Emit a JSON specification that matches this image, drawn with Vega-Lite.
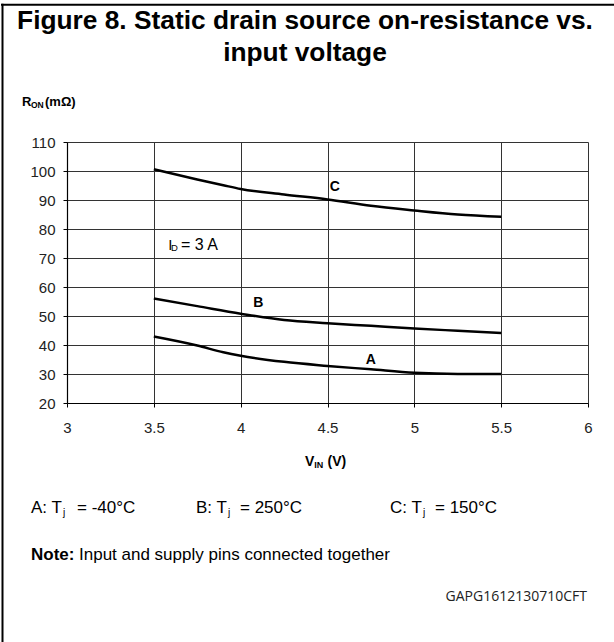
{
  "$schema": "https://vega.github.io/schema/vega-lite/v6.json",
  "width": 521,
  "height": 261,
  "autosize": {"type": "none"},
  "padding": {"left": 67, "top": 142, "right": 26, "bottom": 239},
  "background": "white",
  "config": {
    "view": {"stroke": null},
    "font": "Liberation Sans",
    "text": {"font": "Liberation Sans", "color": "black"},
    "axis": {
      "grid": true, "gridColor": "#333", "gridWidth": 1,
      "domainColor": "black", "domainWidth": 1.2,
      "tickColor": "black", "tickSize": 4, "tickWidth": 1,
      "labelFont": "Liberation Sans", "labelFontSize": 15, "labelColor": "#222",
      "labelFlush": false, "title": null
    },
    "axisX": {"labelPadding": 13},
    "axisY": {"labelPadding": 8}
  },
  "datasets": {
    "curves": [
      {"series": "A", "v": 3.5, "r": 42.9},
      {"series": "A", "v": 3.75, "r": 39.8},
      {"series": "A", "v": 3.9, "r": 37.5},
      {"series": "A", "v": 4.0, "r": 36.3},
      {"series": "A", "v": 4.25, "r": 34.2},
      {"series": "A", "v": 4.5, "r": 32.8},
      {"series": "A", "v": 4.75, "r": 31.6},
      {"series": "A", "v": 5.0, "r": 30.4},
      {"series": "A", "v": 5.25, "r": 30.0},
      {"series": "A", "v": 5.5, "r": 30.0},
      {"series": "B", "v": 3.5, "r": 56.0},
      {"series": "B", "v": 3.75, "r": 53.4},
      {"series": "B", "v": 4.0, "r": 50.8},
      {"series": "B", "v": 4.25, "r": 48.6},
      {"series": "B", "v": 4.5, "r": 47.5},
      {"series": "B", "v": 4.75, "r": 46.6},
      {"series": "B", "v": 5.0, "r": 45.7},
      {"series": "B", "v": 5.25, "r": 44.9},
      {"series": "B", "v": 5.5, "r": 44.1},
      {"series": "C", "v": 3.5, "r": 100.6},
      {"series": "C", "v": 3.75, "r": 97.1},
      {"series": "C", "v": 3.9, "r": 95.1},
      {"series": "C", "v": 4.0, "r": 93.8},
      {"series": "C", "v": 4.25, "r": 91.9},
      {"series": "C", "v": 4.5, "r": 90.2},
      {"series": "C", "v": 4.75, "r": 88.0},
      {"series": "C", "v": 5.0, "r": 86.4},
      {"series": "C", "v": 5.25, "r": 85.0},
      {"series": "C", "v": 5.5, "r": 84.2}
    ],
    "labels": [
      {"name": "A", "v": 4.7493, "r": 34.93},
      {"name": "B", "v": 4.1015, "r": 54.38},
      {"name": "C", "v": 4.5414, "r": 94.59}
    ],
    "one": [{}]
  },
  "layer": [
    {
      "data": {"name": "curves"},
      "mark": {"type": "line", "color": "black", "strokeWidth": 2.5, "interpolate": "monotone"},
      "encoding": {
        "x": {"field": "v", "type": "quantitative", "scale": {"domain": [3, 6], "nice": false, "zero": false}, "axis": {"values": [3, 3.5, 4, 4.5, 5, 5.5, 6], "format": "~g"}},
        "y": {"field": "r", "type": "quantitative", "scale": {"domain": [20, 110], "nice": false, "zero": false}, "axis": {"values": [20, 30, 40, 50, 60, 70, 80, 90, 100, 110], "format": "d"}},
        "detail": {"field": "series"}
      }
    },
    {
      "data": {"name": "labels"},
      "mark": {"type": "text", "fontWeight": "bold", "fontSize": 14, "align": "center", "baseline": "middle"},
      "encoding": {
        "x": {"field": "v", "type": "quantitative", "axis": {"values": [3, 3.5, 4, 4.5, 5, 5.5, 6], "format": "~g"}},
        "y": {"field": "r", "type": "quantitative", "axis": {"values": [20, 30, 40, 50, 60, 70, 80, 90, 100, 110], "format": "d"}},
        "text": {"field": "name"}
      }
    },
    {
      "data": {"name": "one"},
      "mark": {"type": "text", "fontSize": 15, "align": "left", "baseline": "middle"},
      "encoding": {"x": {"datum": 3.5833, "type": "quantitative", "axis": {"values": [3, 3.5, 4, 4.5, 5, 5.5, 6], "format": "~g"}}, "y": {"datum": 74.483, "type": "quantitative", "axis": {"values": [20, 30, 40, 50, 60, 70, 80, 90, 100, 110], "format": "d"}}, "text": {"value": "I"}}
    },
    {
      "data": {"name": "one"},
      "mark": {"type": "text", "fontSize": 9.5, "align": "left", "baseline": "middle"},
      "encoding": {"x": {"datum": 3.5988, "type": "quantitative", "axis": {"values": [3, 3.5, 4, 4.5, 5, 5.5, 6], "format": "~g"}}, "y": {"datum": 73.448, "type": "quantitative", "axis": {"values": [20, 30, 40, 50, 60, 70, 80, 90, 100, 110], "format": "d"}}, "text": {"value": "D"}}
    },
    {
      "data": {"name": "one"},
      "mark": {"type": "text", "fontSize": 16, "align": "left", "baseline": "middle"},
      "encoding": {"x": {"datum": 3.6564, "type": "quantitative", "axis": {"values": [3, 3.5, 4, 4.5, 5, 5.5, 6], "format": "~g"}}, "y": {"datum": 74.483, "type": "quantitative", "axis": {"values": [20, 30, 40, 50, 60, 70, 80, 90, 100, 110], "format": "d"}}, "text": {"value": "= 3 A"}}
    },
    {
      "data": {"name": "one"},
      "mark": {"type": "text", "fontSize": 26.3, "fontWeight": "bold", "align": "center", "baseline": "alphabetic"},
      "encoding": {"x": {"datum": 4.3704, "type": "quantitative", "axis": {"values": [3, 3.5, 4, 4.5, 5, 5.5, 6], "format": "~g"}}, "y": {"datum": 148.966, "type": "quantitative", "axis": {"values": [20, 30, 40, 50, 60, 70, 80, 90, 100, 110], "format": "d"}}, "text": {"value": "Figure 8. Static drain source on-resistance vs."}}
    },
    {
      "data": {"name": "one"},
      "mark": {"type": "text", "fontSize": 26.3, "fontWeight": "bold", "align": "center", "baseline": "alphabetic"},
      "encoding": {"x": {"datum": 4.3704, "type": "quantitative", "axis": {"values": [3, 3.5, 4, 4.5, 5, 5.5, 6], "format": "~g"}}, "y": {"datum": 137.931, "type": "quantitative", "axis": {"values": [20, 30, 40, 50, 60, 70, 80, 90, 100, 110], "format": "d"}}, "text": {"value": "input voltage"}}
    },
    {
      "data": {"name": "one"},
      "mark": {"type": "text", "fontSize": 13, "fontWeight": "bold", "align": "left", "baseline": "middle"},
      "encoding": {"x": {"datum": 2.7409, "type": "quantitative", "axis": {"values": [3, 3.5, 4, 4.5, 5, 5.5, 6], "format": "~g"}}, "y": {"datum": 123.793, "type": "quantitative", "axis": {"values": [20, 30, 40, 50, 60, 70, 80, 90, 100, 110], "format": "d"}}, "text": {"value": "R"}}
    },
    {
      "data": {"name": "one"},
      "mark": {"type": "text", "fontSize": 8.5, "fontWeight": "bold", "align": "left", "baseline": "middle"},
      "encoding": {"x": {"datum": 2.7927, "type": "quantitative", "axis": {"values": [3, 3.5, 4, 4.5, 5, 5.5, 6], "format": "~g"}}, "y": {"datum": 122.759, "type": "quantitative", "axis": {"values": [20, 30, 40, 50, 60, 70, 80, 90, 100, 110], "format": "d"}}, "text": {"value": "ON"}}
    },
    {
      "data": {"name": "one"},
      "mark": {"type": "text", "fontSize": 13, "fontWeight": "bold", "align": "left", "baseline": "middle"},
      "encoding": {"x": {"datum": 2.8733, "type": "quantitative", "axis": {"values": [3, 3.5, 4, 4.5, 5, 5.5, 6], "format": "~g"}}, "y": {"datum": 123.793, "type": "quantitative", "axis": {"values": [20, 30, 40, 50, 60, 70, 80, 90, 100, 110], "format": "d"}}, "text": {"value": "(mΩ)"}}
    },
    {
      "data": {"name": "one"},
      "mark": {"type": "text", "fontSize": 14, "fontWeight": "bold", "align": "left", "baseline": "middle"},
      "encoding": {"x": {"datum": 4.3704, "type": "quantitative", "axis": {"values": [3, 3.5, 4, 4.5, 5, 5.5, 6], "format": "~g"}}, "y": {"datum": -0.345, "type": "quantitative", "axis": {"values": [20, 30, 40, 50, 60, 70, 80, 90, 100, 110], "format": "d"}}, "text": {"value": "V"}}
    },
    {
      "data": {"name": "one"},
      "mark": {"type": "text", "fontSize": 9, "fontWeight": "bold", "align": "left", "baseline": "middle"},
      "encoding": {"x": {"datum": 4.424, "type": "quantitative", "axis": {"values": [3, 3.5, 4, 4.5, 5, 5.5, 6], "format": "~g"}}, "y": {"datum": -1.379, "type": "quantitative", "axis": {"values": [20, 30, 40, 50, 60, 70, 80, 90, 100, 110], "format": "d"}}, "text": {"value": "IN"}}
    },
    {
      "data": {"name": "one"},
      "mark": {"type": "text", "fontSize": 14, "fontWeight": "bold", "align": "left", "baseline": "middle"},
      "encoding": {"x": {"datum": 4.5, "type": "quantitative", "axis": {"values": [3, 3.5, 4, 4.5, 5, 5.5, 6], "format": "~g"}}, "y": {"datum": -0.345, "type": "quantitative", "axis": {"values": [20, 30, 40, 50, 60, 70, 80, 90, 100, 110], "format": "d"}}, "text": {"value": "(V)"}}
    },
    {
      "data": {"name": "one"},
      "mark": {"type": "text", "fontSize": 17, "align": "left", "baseline": "middle"},
      "encoding": {"x": {"datum": 2.7927, "type": "quantitative", "axis": {"values": [3, 3.5, 4, 4.5, 5, 5.5, 6], "format": "~g"}}, "y": {"datum": -16.207, "type": "quantitative", "axis": {"values": [20, 30, 40, 50, 60, 70, 80, 90, 100, 110], "format": "d"}}, "text": {"value": "A: T"}}
    },
    {
      "data": {"name": "one"},
      "mark": {"type": "text", "fontSize": 10, "align": "left", "baseline": "middle"},
      "encoding": {"x": {"datum": 2.977, "type": "quantitative", "axis": {"values": [3, 3.5, 4, 4.5, 5, 5.5, 6], "format": "~g"}}, "y": {"datum": -17.93, "type": "quantitative", "axis": {"values": [20, 30, 40, 50, 60, 70, 80, 90, 100, 110], "format": "d"}}, "text": {"value": "j"}}
    },
    {
      "data": {"name": "one"},
      "mark": {"type": "text", "fontSize": 17, "align": "left", "baseline": "middle"},
      "encoding": {"x": {"datum": 3.0576, "type": "quantitative", "axis": {"values": [3, 3.5, 4, 4.5, 5, 5.5, 6], "format": "~g"}}, "y": {"datum": -16.207, "type": "quantitative", "axis": {"values": [20, 30, 40, 50, 60, 70, 80, 90, 100, 110], "format": "d"}}, "text": {"value": "= -40°C"}}
    },
    {
      "data": {"name": "one"},
      "mark": {"type": "text", "fontSize": 17, "align": "left", "baseline": "middle"},
      "encoding": {"x": {"datum": 3.7428, "type": "quantitative", "axis": {"values": [3, 3.5, 4, 4.5, 5, 5.5, 6], "format": "~g"}}, "y": {"datum": -16.207, "type": "quantitative", "axis": {"values": [20, 30, 40, 50, 60, 70, 80, 90, 100, 110], "format": "d"}}, "text": {"value": "B: T"}}
    },
    {
      "data": {"name": "one"},
      "mark": {"type": "text", "fontSize": 10, "align": "left", "baseline": "middle"},
      "encoding": {"x": {"datum": 3.9271, "type": "quantitative", "axis": {"values": [3, 3.5, 4, 4.5, 5, 5.5, 6], "format": "~g"}}, "y": {"datum": -17.93, "type": "quantitative", "axis": {"values": [20, 30, 40, 50, 60, 70, 80, 90, 100, 110], "format": "d"}}, "text": {"value": "j"}}
    },
    {
      "data": {"name": "one"},
      "mark": {"type": "text", "fontSize": 17, "align": "left", "baseline": "middle"},
      "encoding": {"x": {"datum": 3.9962, "type": "quantitative", "axis": {"values": [3, 3.5, 4, 4.5, 5, 5.5, 6], "format": "~g"}}, "y": {"datum": -16.207, "type": "quantitative", "axis": {"values": [20, 30, 40, 50, 60, 70, 80, 90, 100, 110], "format": "d"}}, "text": {"value": "= 250°C"}}
    },
    {
      "data": {"name": "one"},
      "mark": {"type": "text", "fontSize": 17, "align": "left", "baseline": "middle"},
      "encoding": {"x": {"datum": 4.8599, "type": "quantitative", "axis": {"values": [3, 3.5, 4, 4.5, 5, 5.5, 6], "format": "~g"}}, "y": {"datum": -16.207, "type": "quantitative", "axis": {"values": [20, 30, 40, 50, 60, 70, 80, 90, 100, 110], "format": "d"}}, "text": {"value": "C: T"}}
    },
    {
      "data": {"name": "one"},
      "mark": {"type": "text", "fontSize": 10, "align": "left", "baseline": "middle"},
      "encoding": {"x": {"datum": 5.0499, "type": "quantitative", "axis": {"values": [3, 3.5, 4, 4.5, 5, 5.5, 6], "format": "~g"}}, "y": {"datum": -17.93, "type": "quantitative", "axis": {"values": [20, 30, 40, 50, 60, 70, 80, 90, 100, 110], "format": "d"}}, "text": {"value": "j"}}
    },
    {
      "data": {"name": "one"},
      "mark": {"type": "text", "fontSize": 17, "align": "left", "baseline": "middle"},
      "encoding": {"x": {"datum": 5.119, "type": "quantitative", "axis": {"values": [3, 3.5, 4, 4.5, 5, 5.5, 6], "format": "~g"}}, "y": {"datum": -16.207, "type": "quantitative", "axis": {"values": [20, 30, 40, 50, 60, 70, 80, 90, 100, 110], "format": "d"}}, "text": {"value": "= 150°C"}}
    },
    {
      "data": {"name": "one"},
      "mark": {"type": "text", "fontSize": 17, "fontWeight": "bold", "align": "left", "baseline": "middle"},
      "encoding": {"x": {"datum": 2.7927, "type": "quantitative", "axis": {"values": [3, 3.5, 4, 4.5, 5, 5.5, 6], "format": "~g"}}, "y": {"datum": -32.414, "type": "quantitative", "axis": {"values": [20, 30, 40, 50, 60, 70, 80, 90, 100, 110], "format": "d"}}, "text": {"value": "Note:"}}
    },
    {
      "data": {"name": "one"},
      "mark": {"type": "text", "fontSize": 17, "align": "left", "baseline": "middle"},
      "encoding": {"x": {"datum": 3.0691, "type": "quantitative", "axis": {"values": [3, 3.5, 4, 4.5, 5, 5.5, 6], "format": "~g"}}, "y": {"datum": -32.414, "type": "quantitative", "axis": {"values": [20, 30, 40, 50, 60, 70, 80, 90, 100, 110], "format": "d"}}, "text": {"value": "Input and supply pins connected together"}}
    },
    {
      "data": {"name": "one"},
      "mark": {"type": "text", "fontSize": 14, "font": "Open Sans", "color": "#222", "align": "right", "baseline": "middle"},
      "encoding": {"x": {"datum": 5.9942, "type": "quantitative", "axis": {"values": [3, 3.5, 4, 4.5, 5, 5.5, 6], "format": "~g"}}, "y": {"datum": -46.897, "type": "quantitative", "axis": {"values": [20, 30, 40, 50, 60, 70, 80, 90, 100, 110], "format": "d"}}, "text": {"value": "GAPG1612130710CFT"}}
    },
    {
      "data": {"name": "one"},
      "mark": {"type": "rule", "color": "black", "strokeWidth": 2},
      "encoding": {"x": {"datum": 2.6286, "type": "quantitative", "axis": {"values": [3, 3.5, 4, 4.5, 5, 5.5, 6], "format": "~g"}}, "y": {"datum": 157.66, "type": "quantitative", "axis": {"values": [20, 30, 40, 50, 60, 70, 80, 90, 100, 110], "format": "d"}}, "y2": {"datum": -65}}
    },
    {
      "data": {"name": "one"},
      "mark": {"type": "rule", "color": "black", "strokeWidth": 2},
      "encoding": {"x": {"datum": 2.62, "type": "quantitative", "axis": {"values": [3, 3.5, 4, 4.5, 5, 5.5, 6], "format": "~g"}}, "x2": {"datum": 6.2}, "y": {"datum": 157.31, "type": "quantitative", "axis": {"values": [20, 30, 40, 50, 60, 70, 80, 90, 100, 110], "format": "d"}}}
    }
  ]
}
